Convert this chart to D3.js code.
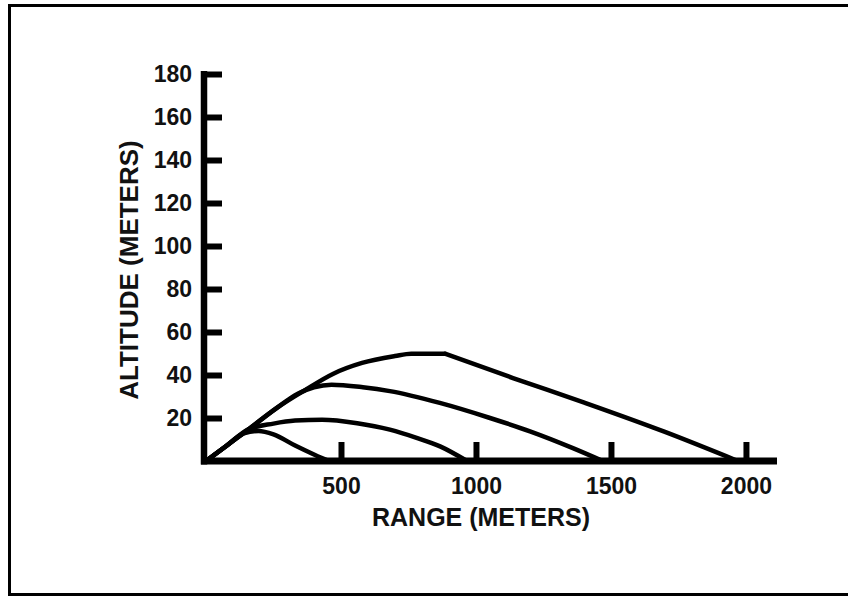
<!DOCTYPE html>
<html>
<head>
<meta charset="utf-8">
<script src="https://cdn.jsdelivr.net/npm/d3@7"></script>
<style>
  html, body { margin: 0; padding: 0; background: #fff; }
  svg { display: block; }
  text { font-family: "Liberation Sans", Arial, sans-serif; font-weight: bold; fill: #111; }
</style>
</head>
<body>
<div id="chart"></div>
<script>
// range (m) / altitude (m) points
var traj500Range = [0, 75, 140, 195, 250, 330, 404, 455]
var traj500Alt   = [0, 7, 12.8, 14, 12.4, 7.2, 2.8, 0]

var traj1000Range = [0, 75, 156, 250, 330, 430, 560, 681, 780, 867, 967]
var traj1000Alt   = [0, 7, 14.6, 17.4, 18.8, 19.2, 17.6, 14.6, 10.8, 6.8, 0]

var traj1500Range = [0, 75, 156, 260, 340, 400, 465, 581, 681, 866, 1052, 1200, 1359, 1470]
var traj1500Alt   = [0, 7, 14.6, 24.5, 31.3, 34.3, 35.5, 34.3, 32.5, 27, 20, 13.8, 6, 0]

var traj2000Range = [0, 75, 156, 260, 367, 470, 578, 700, 760, 885, 1137, 1404, 1700, 1970]
var traj2000Alt   = [0, 7, 14.6, 24.5, 33, 40.5, 45.6, 48.8, 49.9, 49.9, 38.6, 27, 13.5, 0]
// the long trajectory has a sharp corner where the flat top ends
var traj2000Corner = 885

var xTicks = [500, 1000, 1500, 2000]
var yTicks = [20, 40, 60, 80, 100, 120, 140, 160, 180]

var width = 848,
  height = 596

var svg = d3
  .select("#chart")
  .append("svg")
  .attr("width", width)
  .attr("height", height)

// frame (right edge falls off the picture)
svg
  .append("path")
  .attr("d", "M" + width + ",5.5H9.5V594.5H" + width)
  .attr("fill", "none")
  .attr("stroke", "#000")
  .attr("stroke-width", 3)

var x = d3.scaleLinear().domain([0, 2115]).range([206, 777])
var y = d3.scaleLinear().domain([0, 180]).range([461, 74])

/* ------- AXES -------*/
var xAxis = svg
  .append("g")
  .attr("transform", "translate(0," + y(0) + ")")
  .call(
    d3
      .axisBottom(x)
      .tickValues(xTicks)
      .tickSizeInner(-19)
      .tickSizeOuter(0)
      .tickPadding(17)
      .tickFormat(d3.format("d"))
  )

xAxis.select(".domain").remove()
xAxis.selectAll(".tick line").attr("stroke", "#000").attr("stroke-width", 6)
xAxis.selectAll(".tick text").style("font-size", "23px").attr("fill", "#111")

var yAxis = svg
  .append("g")
  .attr("transform", "translate(" + (x(0) - 2) + ",0)")
  .call(
    d3
      .axisLeft(y)
      .tickValues(yTicks)
      .tickSizeInner(-18)
      .tickSizeOuter(0)
      .tickPadding(12)
      .tickFormat(d3.format("d"))
  )

yAxis.select(".domain").remove()
yAxis.selectAll(".tick line").attr("stroke", "#000").attr("stroke-width", 6)
yAxis.selectAll(".tick text").style("font-size", "23px").attr("fill", "#111")

// axis lines
svg
  .append("line")
  .attr("x1", x(0) - 2)
  .attr("x2", x(0) - 2)
  .attr("y1", y(180) - 3)
  .attr("y2", y(0) + 3.5)
  .attr("stroke", "#000")
  .attr("stroke-width", 6.5)

svg
  .append("line")
  .attr("x1", x(0) - 5)
  .attr("x2", x.range()[1])
  .attr("y1", y(0))
  .attr("y2", y(0))
  .attr("stroke", "#000")
  .attr("stroke-width", 7)

/* ------- TRAJECTORIES -------*/
var line = d3
  .line()
  .x(function(d) { return x(d[0]) })
  .y(function(d) { return y(d[1]) })
  .curve(d3.curveMonotoneX)

var long = d3.zip(traj2000Range, traj2000Alt)
var trajectories = [
  d3.zip(traj500Range, traj500Alt),
  d3.zip(traj1000Range, traj1000Alt),
  d3.zip(traj1500Range, traj1500Alt),
  long.filter(function(d) { return d[0] <= traj2000Corner }),
  long.filter(function(d) { return d[0] >= traj2000Corner }),
]

svg
  .append("g")
  .selectAll("path")
  .data(trajectories)
  .enter()
  .append("path")
  .attr("d", line)
  .attr("fill", "none")
  .attr("stroke", "#000")
  .attr("stroke-width", 4.5)
  .attr("stroke-linejoin", "round")
  .attr("stroke-linecap", "round")

/* ------- TITLES -------*/
svg
  .append("text")
  .attr("x", 481)
  .attr("y", 526)
  .attr("text-anchor", "middle")
  .style("font-size", "25px")
  .text("RANGE (METERS)")

svg
  .append("text")
  .attr("transform", "translate(138," + 270 + ") rotate(-90)")
  .attr("text-anchor", "middle")
  .style("font-size", "26px")
  .text("ALTITUDE (METERS)")
</script>
</body>
</html>
